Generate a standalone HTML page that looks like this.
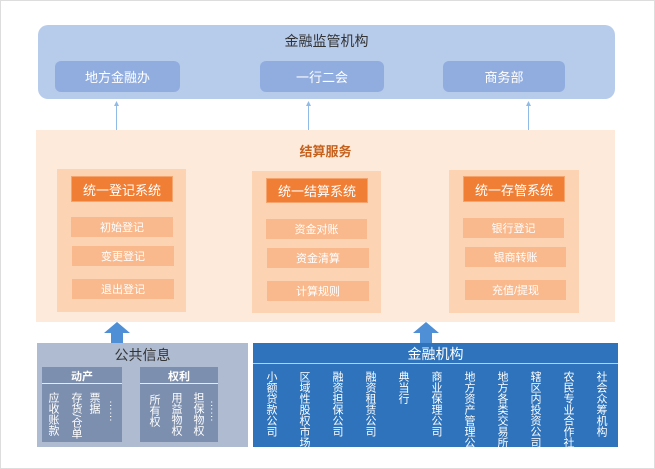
<!DOCTYPE html>
<html><head><meta charset="utf-8"><style>
*{margin:0;padding:0;box-sizing:border-box}
body{width:655px;height:469px;background:#fff;position:relative;overflow:hidden;font-family:"Liberation Sans","Noto Sans CJK SC",sans-serif}
.a{position:absolute;display:flex;align-items:center;justify-content:center}
.sub{background:#91ade0;color:#fff;font-size:13px;border-radius:6px}
.pan{position:absolute;background:#fcd3b3}
.hd{background:#f07f35;color:#fff;font-size:13px;border:1px solid #f5a46d}
.it{background:#f9b98d;color:#fff;font-size:11px}
.v{position:absolute;writing-mode:vertical-rl;font-size:11px;line-height:12px;color:#fff;letter-spacing:0}
</style></head><body>
<div style="position:absolute;left:0;top:0;width:655px;height:469px;border:1px solid #ddd"></div>
<div class="a" style="left:38px;top:25px;width:577px;height:74px;background:#b7cbeb;border-radius:10px;align-items:flex-start;padding-top:6px;font-size:14px;color:#333">金融监管机构</div>
<div class="a sub" style="left:55px;top:61px;width:125px;height:31px">地方金融办</div>
<div class="a sub" style="left:260px;top:61px;width:124px;height:31px">一行二会</div>
<div class="a sub" style="left:443px;top:61px;width:122px;height:31px">商务部</div>
<div style="position:absolute;left:36px;top:130px;width:579px;height:192px;background:#fdeadb"></div>
<svg style="position:absolute;left:0;top:0" width="655" height="469">
<g stroke="#8fbbe6" stroke-width="1" fill="#8fbbe6">
<line x1="116.5" y1="104" x2="116.5" y2="130"/><polygon points="116.5,101 114,106 119,106" stroke="none"/>
<line x1="308.5" y1="104" x2="308.5" y2="130"/><polygon points="308.5,101 306,106 311,106" stroke="none"/>
<line x1="528.5" y1="104" x2="528.5" y2="130"/><polygon points="528.5,101 526,106 531,106" stroke="none"/>
</g></svg>
<div class="a" style="left:36px;top:140px;width:579px;height:20px;color:#c5611c;font-weight:bold;font-size:13px">结算服务</div>
<div class="pan" style="left:57px;top:169px;width:129px;height:143px"></div>
<div class="pan" style="left:252px;top:171px;width:129px;height:142px"></div>
<div class="pan" style="left:449px;top:170px;width:130px;height:143px"></div>
<div class="a hd" style="left:71px;top:176px;width:102px;height:26px">统一登记系统</div>
<div class="a hd" style="left:266px;top:178px;width:102px;height:25px">统一结算系统</div>
<div class="a hd" style="left:463px;top:176px;width:102px;height:26px">统一存管系统</div>
<div class="a it" style="left:71px;top:217px;width:102px;height:20px">初始登记</div>
<div class="a it" style="left:72px;top:246px;width:102px;height:20px">变更登记</div>
<div class="a it" style="left:72px;top:279px;width:102px;height:20px">退出登记</div>
<div class="a it" style="left:266px;top:219px;width:101px;height:20px">资金对账</div>
<div class="a it" style="left:267px;top:248px;width:102px;height:20px">资金清算</div>
<div class="a it" style="left:267px;top:281px;width:102px;height:20px">计算规则</div>
<div class="a it" style="left:463px;top:218px;width:101px;height:20px">银行登记</div>
<div class="a it" style="left:465px;top:247px;width:101px;height:20px">银商转账</div>
<div class="a it" style="left:465px;top:280px;width:101px;height:20px">充值/提现</div>
<svg style="position:absolute;left:0;top:0" width="655" height="469"><polygon points="117,322 130,333 123,333 123,343 111,343 111,333 104,333" fill="#4f8fd6"/><polygon points="426,322 439,333 432,333 432,343 420,343 420,333 413,333" fill="#4f8fd6"/></svg>
<div style="position:absolute;left:37px;top:343px;width:211px;height:104px;background:#aebbd0"></div>
<div class="a" style="left:37px;top:345px;width:211px;height:20px;font-size:14px;color:#333">公共信息</div>
<div style="position:absolute;left:42px;top:367px;width:80px;height:75px;background:#7d8fae"></div>
<div style="position:absolute;left:140px;top:367px;width:78px;height:75px;background:#7d8fae"></div>
<div class="a" style="left:42px;top:368px;width:80px;height:16px;color:#fff;font-size:11px;font-weight:bold;border-bottom:1px solid #e5e9f0">动产</div>
<div class="a" style="left:140px;top:368px;width:78px;height:16px;color:#fff;font-size:11px;font-weight:bold;border-bottom:1px solid #e5e9f0">权利</div>
<div class="v" style="left:47px;top:392px">应收账款</div>
<div class="v" style="left:70px;top:392px">存货/仓单</div>
<div class="v" style="left:88px;top:392px">票据</div>
<div class="v" style="left:107px;top:400px">……</div>
<div class="v" style="left:148px;top:394px">所有权</div>
<div class="v" style="left:170px;top:392px">用益物权</div>
<div class="v" style="left:192px;top:392px">担保物权</div>
<div class="v" style="left:208px;top:400px">……</div>
<div style="position:absolute;left:253px;top:343px;width:365px;height:104px;background:#2e73bc"></div>
<div class="a" style="left:253px;top:345px;width:365px;height:19px;font-size:14px;color:#fff;border-bottom:1px solid #b8d0ec">金融机构</div>
<div class="v" style="left:265px;top:371px">小额贷款公司</div>
<div class="v" style="left:298px;top:371px">区域性股权市场</div>
<div class="v" style="left:331px;top:371px">融资担保公司</div>
<div class="v" style="left:364px;top:371px">融资租赁公司</div>
<div class="v" style="left:397px;top:371px">典当行</div>
<div class="v" style="left:430px;top:371px">商业保理公司</div>
<div class="v" style="left:463px;top:371px">地方资产管理公司</div>
<div class="v" style="left:496px;top:371px">地方各类交易所</div>
<div class="v" style="left:529px;top:371px">辖区内投资公司</div>
<div class="v" style="left:562px;top:371px">农民专业合作社</div>
<div class="v" style="left:595px;top:371px">社会众筹机构</div>
</body></html>
